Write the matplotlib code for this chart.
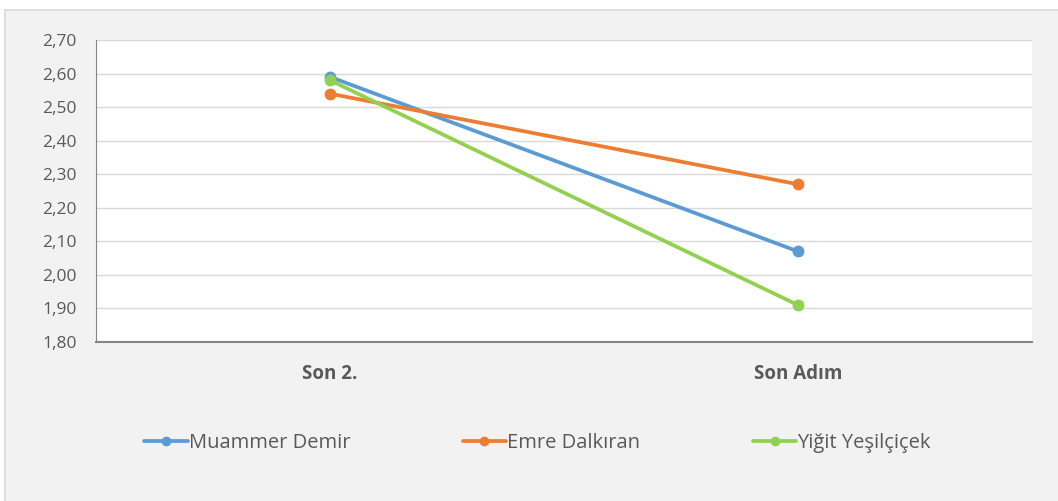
import numpy as np
import matplotlib.pyplot as plt
from matplotlib.patches import Rectangle
from matplotlib.ticker import FuncFormatter

categories = ["Son 2.", "Son Adım"]
series_names = ["Muammer Demir", "Emre Dalkıran", "Yiğit Yeşilçiçek"]
muammer = [2.59, 2.07]
emre = [2.54, 2.27]
yigit = [2.58, 1.91]
colors = ["#5b9bd5", "#ed7d31", "#92d050"]

plt.rcParams['font.family'] = ['Open Sans', 'DejaVu Sans']

fig = plt.figure(figsize=(10.58, 5.01), dpi=100, facecolor="white")
# chart area background (cropped at right and bottom)
fig.patches.append(Rectangle((5 / 1058, -0.05), 1.1, 1.05 - 10 / 501, transform=fig.transFigure,
                             facecolor="#f2f2f2", edgecolor="#d9d9d9", linewidth=1.2, zorder=-10))

ax = fig.add_axes([96 / 1058, (501 - 342) / 501, 936 / 1058, 302 / 501])
ax.set_facecolor("white")

x = np.arange(len(categories))
for vals, name, c in zip([muammer, emre, yigit], series_names, colors):
    ax.plot(x, vals, color=c, lw=2.7, marker="o", markersize=7.5, label=name,
            solid_capstyle="round", zorder=3)

ax.set_xlim(-0.5, 1.5)
ax.set_ylim(1.80, 2.70)
ax.set_yticks(np.arange(1.80, 2.701, 0.10))
ax.yaxis.set_major_formatter(FuncFormatter(lambda v, p: f"{v:.2f}".replace(".", ",")))
ax.set_xticks(x)
ax.set_xticklabels(categories, fontweight="bold", fontsize=13.5, color="#595959")
ax.tick_params(axis="y", length=0, pad=14, labelsize=12.5, labelcolor="#595959")
ax.tick_params(axis="x", length=0, pad=16)

ax.grid(axis="y", color="#d9d9d9", lw=1)
ax.set_axisbelow(True)
for s in ["top", "right"]:
    ax.spines[s].set_visible(False)
ax.spines["left"].set_color("#868686")
ax.spines["bottom"].set_color("#868686")
ax.spines["bottom"].set_linewidth(1.5)

fig.legend(loc="center", bbox_to_anchor=(0.508, 0.116), ncol=3, frameon=False,
           fontsize=14.5, handlelength=2.15, columnspacing=5.6, handletextpad=0.05,
           labelcolor="#595959", markerscale=0.8)

fig.savefig("out.png", dpi=100, facecolor=fig.get_facecolor())
